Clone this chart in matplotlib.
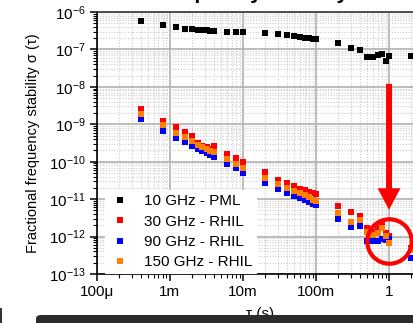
import math
import matplotlib
matplotlib.use("Agg")
import matplotlib.pyplot as plt
from matplotlib.patches import FancyBboxPatch, Rectangle
from matplotlib.ticker import LogLocator, FixedLocator, FixedFormatter, NullFormatter

plt.rcParams['font.family'] = ['Liberation Sans', 'DejaVu Sans']
plt.rcParams['mathtext.fontset'] = 'custom'
plt.rcParams['mathtext.rm'] = 'Liberation Sans'
plt.rcParams['mathtext.it'] = 'Liberation Sans:italic'
plt.rcParams['mathtext.default'] = 'regular'

# averaging times (s)
tau = [0.4e-3, 0.8e-3, 1.2e-3, 1.6e-3, 2.0e-3, 2.4e-3, 2.8e-3, 3.2e-3, 3.6e-3, 4.0e-3,
       6e-3, 8e-3, 10e-3, 20e-3, 30e-3, 40e-3, 50e-3, 60e-3, 70e-3, 80e-3, 90e-3,
       0.1, 0.2, 0.3, 0.4, 0.5, 0.6, 0.7, 0.8, 0.9, 1.0, 2.0]

adev_10ghz_pml = [5.85e-7, 4.48e-7, 3.89e-7, 3.57e-7, 3.43e-7, 3.36e-7, 3.29e-7, 3.22e-7,
                  3.19e-7, 3.09e-7, 2.96e-7, 2.96e-7, 2.91e-7, 2.74e-7, 2.57e-7, 2.37e-7,
                  2.27e-7, 2.13e-7, 2.07e-7, 2.0e-7, 1.92e-7, 1.89e-7, 1.48e-7, 1.08e-7,
                  9.75e-8, 6.33e-8, 6.2e-8, 6.9e-8, 7.62e-8, 4.85e-8, 6.6e-8, 6.7e-8]

adev_30ghz_rhil = [2.5e-9, 1.25e-9, 8.4e-10, 6.3e-10, 4.9e-10, 3.1e-10, 2.7e-10, 2.4e-10,
                   2.15e-10, 2.55e-10, 1.63e-10, 1.27e-10, 1.0e-10, 5.2e-11, 3.33e-11, 2.64e-11,
                   2.2e-11, 1.9e-11, 1.72e-11, 1.55e-11, 1.46e-11, 1.34e-11, 6.4e-12, 4.6e-12,
                   3.5e-12, 1.68e-12, 1.36e-12, 1.71e-12, 2.07e-12, 1.24e-12, 1.05e-12, 5.0e-13]

adev_90ghz_rhil = [1.35e-9, 6.6e-10, 4.4e-10, 3.3e-10, 2.6e-10, 2.21e-10, 1.9e-10, 1.69e-10,
                   1.53e-10, 1.35e-10, 8.9e-11, 6.7e-11, 5.1e-11, 2.76e-11, 1.87e-11, 1.46e-11,
                   1.24e-11, 1.09e-11, 9.66e-12, 8.55e-12, 7.55e-12, 7.1e-12, 3.0e-12, 1.8e-12,
                   1.86e-12, 7.4e-13, 7.4e-13, 7.8e-13, 8.5e-13, 8.2e-13, 8.5e-13, 2.64e-13]

adev_150ghz_rhil = [1.84e-9, 9.3e-10, 5.9e-10, 4.5e-10, 3.55e-10, 2.88e-10, 2.5e-10, 2.21e-10,
                    1.99e-10, 1.84e-10, 1.19e-10, 8.9e-11, 7.0e-11, 3.6e-11, 2.5e-11, 1.94e-11,
                    1.65e-11, 1.43e-11, 1.26e-11, 1.11e-11, 9.7e-12, 8.7e-12, 4.26e-12, 2.4e-12,
                    2.7e-12, 1.3e-12, 1.1e-12, 1.24e-12, 1.68e-12, 1.05e-12, 6.9e-13, 4.4e-13]

series_labels = ['10 GHz - PML', '30 GHz - RHIL', '90 GHz - RHIL', '150 GHz - RHIL']
series_colors = ['#000000', '#ff0000', '#0000ff', '#ff8000']

x_ticks = [1e-4, 1e-3, 1e-2, 1e-1, 1]
x_ticklabels = ['100\u03bc', '1m', '10m', '100m', '1']

W, H = 413, 323
fig = plt.figure(figsize=(W / 100, H / 100), dpi=100)

ax_left, ax_top, ax_bottom = 96.7, 12, 274
decade_px = 73.08
x_lo, x_hi = 1e-4, 3.0
ax_w = decade_px * math.log10(x_hi / x_lo)
ax = fig.add_axes([ax_left / W, (H - ax_bottom) / H, ax_w / W, (ax_bottom - ax_top) / H])

ax.set_xscale('log')
ax.set_yscale('log')
ax.set_xlim(x_lo, x_hi)
ax.set_ylim(1e-13, 1e-6)

data = [adev_10ghz_pml, adev_30ghz_rhil, adev_90ghz_rhil, adev_150ghz_rhil]
sizes = [4.4, 3.8, 3.8, 3.8]
for vals, lab, col, ms in zip(data, series_labels, series_colors, sizes):
    ax.plot(tau, vals, linestyle='none', marker='s', ms=ms, color=col,
            markeredgewidth=0, label=lab, zorder=3)

ax.xaxis.set_major_locator(FixedLocator(x_ticks))
ax.xaxis.set_major_formatter(FixedFormatter(x_ticklabels))
ax.xaxis.set_minor_locator(LogLocator(base=10, subs=range(2, 10), numticks=20))
ax.xaxis.set_minor_formatter(NullFormatter())
ax.yaxis.set_major_locator(LogLocator(base=10, numticks=20))
ax.yaxis.set_minor_locator(LogLocator(base=10, subs=range(2, 10), numticks=20))
ax.yaxis.set_minor_formatter(NullFormatter())

ax.grid(True, which='major', color='#b0b0b0', linewidth=1.2, linestyle='-', zorder=0)
ax.grid(True, which='minor', color='#cccccc', linewidth=0.8, linestyle=(0, (1, 1.5)), zorder=0)
ax.set_axisbelow(True)

for s in ['left', 'bottom', 'top']:
    ax.spines[s].set_linewidth(1.2)
    ax.spines[s].set_color('#000000')
ax.spines['top'].set_color('#333333')
ax.spines['right'].set_visible(False)

ax.tick_params(which='major', direction='out', length=5, width=1.1, labelsize=11, pad=3)
ax.tick_params(which='minor', direction='out', length=3, width=0.8)

ax.set_ylabel('Fractional frequency stability \u03c3 (\u03c4)', fontsize=10.5, labelpad=6)

leg = ax.legend(loc='lower left', bbox_to_anchor=(8.0 / ax_w, 0.0), frameon=True, fontsize=11,
                handletextpad=0.85, borderaxespad=0.0, borderpad=0.3, labelspacing=0.42,
                handlelength=1.4, markerscale=1.0, fancybox=False)
leg.get_frame().set_edgecolor('none')
leg.get_frame().set_facecolor('white')
leg.get_frame().set_alpha(1.0)

# highlight of the long-term RHIL stability
ax.annotate('', xy=(1.0, 5.2e-12), xytext=(1.0, 1.2e-8),
            arrowprops=dict(arrowstyle='simple,head_length=15.5,head_width=16.5,tail_width=4.3',
                            mutation_scale=1, color='#ff0000', lw=0, shrinkA=0, shrinkB=0),
            zorder=6)
ax.plot([1.0], [7.7e-13], marker='o', ms=32, mfc='none', mec='#ff0000', mew=3.0,
        linestyle='none', zorder=6)

# title (partly above the top edge) and axis label
fig.text(251 / W, 1 + 1.0 / H, 'Frequency stability', ha='center', va='baseline',
         fontsize=15.3, fontweight='bold')
fig.text(260 / W, 1 - 318 / H, '\u03c4 (s)', ha='center', va='baseline', fontsize=11)

bar = FancyBboxPatch((36 / W, -0.05), (W + 20 - 36) / W, (0.05 + 8 / H),
                     boxstyle='round,pad=0,rounding_size=0.012',
                     transform=fig.transFigure, facecolor='#2b2b2b', edgecolor='none', zorder=10)
fig.add_artist(bar)
fig.add_artist(Rectangle((0, 0), 1.5 / W, 15 / H, transform=fig.transFigure,
                         facecolor='#333333', edgecolor='none', zorder=10))

fig.savefig('out.png', dpi=100)
